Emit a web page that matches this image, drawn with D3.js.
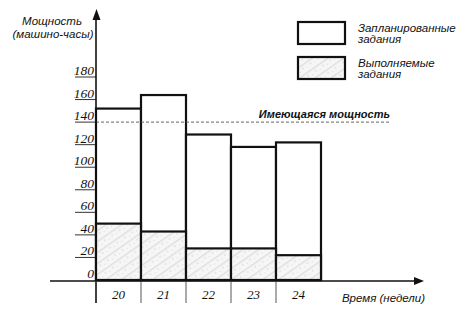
<!DOCTYPE html>
<html><head><meta charset="utf-8">
<script src="https://cdn.jsdelivr.net/npm/d3@7/dist/d3.min.js"></script>
<style>body{margin:0;background:#fff}svg{display:block}</style>
</head><body>
<svg id="c" width="476" height="320"></svg>
<script>
const weeks = ["20","21","22","23","24"];
const planned = [152, 164, 129, 118, 122];
const executing = [50, 43, 28, 28, 22];
const capacity = 140;
const yTicks = [0,20,40,60,80,100,120,140,160,180];

const svg = d3.select("#c");
const defs = svg.append("defs");
const pat = defs.append("pattern").attr("id","stip").attr("patternUnits","userSpaceOnUse")
  .attr("width",9).attr("height",9).attr("patternTransform","rotate(-35)");
pat.append("rect").attr("width",9).attr("height",9).attr("fill","#f6f6f6");
pat.append("rect").attr("y",1).attr("width",9).attr("height",1.4).attr("fill","#dedede");
pat.append("circle").attr("cx",2).attr("cy",5).attr("r",0.7).attr("fill","#cccccc");
pat.append("circle").attr("cx",6.5).attr("cy",6.5).attr("r",0.6).attr("fill","#d6d6d6");

const x = d3.scaleBand().domain(weeks).range([96, 321]).padding(0);
const y = d3.scaleLinear().domain([0, 180]).range([280, 77]);

const sans = "'Liberation Sans', Arial, sans-serif";
const serif = "'Liberation Serif', 'Times New Roman', serif";

// bars
const g = svg.append("g");
weeks.forEach((w,i)=>{
  g.append("rect").attr("x",x(w)).attr("y",y(planned[i])).attr("width",x.bandwidth())
    .attr("height",y(0)-y(planned[i])).attr("fill","#fff").attr("stroke","#111").attr("stroke-width",2.2);
});
weeks.forEach((w,i)=>{
  g.append("rect").attr("x",x(w)).attr("y",y(executing[i])).attr("width",x.bandwidth())
    .attr("height",y(0)-y(executing[i])).attr("fill","url(#stip)").attr("stroke","#111").attr("stroke-width",2.2);
});

// capacity dashed line
svg.append("line").attr("x1",96).attr("x2",390).attr("y1",y(capacity)).attr("y2",y(capacity))
  .attr("stroke","#555").attr("stroke-width",0.9).attr("stroke-dasharray","3,2");
svg.append("text").attr("x",390).attr("y",y(capacity)-4).attr("text-anchor","end")
  .attr("font-family",sans).attr("font-style","italic").attr("font-weight","bold").attr("font-size",11)
  .attr("fill","#111").text("Имеющаяся мощность");

// y ticks (underlined labels)
yTicks.forEach(t=>{
  if(t>0) svg.append("line").attr("x1",75).attr("x2",96).attr("y1",y(t)).attr("y2",y(t))
    .attr("stroke","#333").attr("stroke-width",1);
  svg.append("text").attr("x",94).attr("y",y(t)-2).attr("text-anchor","end")
    .attr("font-family",serif).attr("font-style","italic").attr("font-size",13.5).attr("fill","#111").text(t);
});

// x axis baseline with arrow
svg.append("line").attr("x1",50).attr("x2",418).attr("y1",281).attr("y2",281)
  .attr("stroke","#111").attr("stroke-width",1.6);
svg.append("path").attr("d","M424,281 L414,277 L414,285 Z").attr("fill","#111");

// y axis with arrow
svg.append("line").attr("x1",96).attr("x2",96).attr("y1",303).attr("y2",16)
  .attr("stroke","#111").attr("stroke-width",1.6);
svg.append("path").attr("d","M96.5,9 L92.5,20 L100.5,20 Z").attr("fill","#111");

// category separators and labels
const seps = weeks.map(w=>x(w)).concat([x(weeks[weeks.length-1])+x.bandwidth()]);
seps.forEach((s,i)=>{
  if(i<seps.length-1) svg.append("line").attr("x1",s).attr("x2",s).attr("y1",281).attr("y2",303)
    .attr("stroke","#444").attr("stroke-width",0.9);
});
weeks.forEach(w=>{
  svg.append("text").attr("x",x(w)+x.bandwidth()/2).attr("y",299).attr("text-anchor","middle")
    .attr("font-family",serif).attr("font-style","italic").attr("font-size",13).attr("fill","#111").text(w);
});
svg.append("text").attr("x",425).attr("y",302).attr("text-anchor","end")
  .attr("font-family",sans).attr("font-style","italic").attr("font-size",11.5).attr("fill","#111").text("Время (недели)");

// y axis title
svg.append("text").attr("x",52).attr("y",25).attr("text-anchor","middle")
  .attr("font-family",sans).attr("font-style","italic").attr("font-size",11.5).attr("fill","#111").text("Мощность");
svg.append("text").attr("x",53).attr("y",38).attr("text-anchor","middle")
  .attr("font-family",sans).attr("font-style","italic").attr("font-size",11.5).attr("fill","#111").text("(машино-часы)");

// legend
const legend = [
  {fill:"#fff", lines:["Запланированные","задания"], y:22},
  {fill:"url(#stip)", lines:["Выполняемые","задания"], y:57}
];
legend.forEach(l=>{
  svg.append("rect").attr("x",298).attr("y",l.y).attr("width",47).attr("height",22)
    .attr("fill",l.fill).attr("stroke","#111").attr("stroke-width",2.2);
  l.lines.forEach((t,j)=>{
    svg.append("text").attr("x",358).attr("y",l.y+10+j*11).attr("font-family",sans)
      .attr("font-style","italic").attr("font-size",11.5).attr("fill","#111").text(t);
  });
});
</script>
</body></html>
